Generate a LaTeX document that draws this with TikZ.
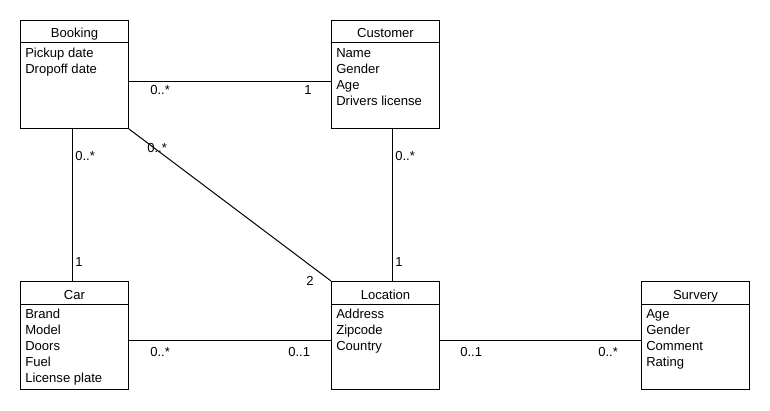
\documentclass[tikz,border=0pt]{standalone}
\usepackage{fontspec}
\setmainfont{Liberation Sans}
\usetikzlibrary{calc}

\begin{document}
\begin{tikzpicture}[x=0.75pt,y=0.75pt,yscale=-1,xscale=1,
	every node/.style={font=\fontsize{9.8}{12}\selectfont},
	umlbox/.style={draw, line width=0.75pt, anchor=north west, minimum width=81pt, minimum height=81pt, inner sep=0pt},
	classname/.style={anchor=base, inner sep=0.75pt},
	attrs/.style={anchor=north west, align=left, inner sep=0.75pt},
	mult/.style={anchor=base west, inner sep=0.75pt},
	assoc/.style={line width=0.75pt}]
				\useasboundingbox (0,0) rectangle (770,410);

				%Shape: Class Boxes
				\node[umlbox] (booking) at (20,20) {};
				\node[umlbox] (customer) at (331,20) {};
				\node[umlbox] (car) at (20,281) {};
				\node[umlbox] (location) at (331,281) {};
				\node[umlbox] (survery) at (641,281) {};

				%Straight Lines: title dividers
				\draw [assoc] ($(booking.north west)+(0,23)$) -- ($(booking.north east)+(0,23)$) ;
				\draw [assoc] ($(customer.north west)+(0,23)$) -- ($(customer.north east)+(0,23)$) ;
				\draw [assoc] ($(car.north west)+(0,23)$) -- ($(car.north east)+(0,23)$) ;
				\draw [assoc] ($(location.north west)+(0,23)$) -- ($(location.north east)+(0,23)$) ;
				\draw [assoc] ($(survery.north west)+(0,23)$) -- ($(survery.north east)+(0,23)$) ;

				% Text Node
				\node[classname] (bookingname) at ($(booking.north)+(0,18)$) {Booking};
				\node[attrs] (bookingattr) at ($(booking.north west)+(4,27)$) {Pickup date\\Dropoff date};
				% Text Node
				\node[classname] (customername) at ($(customer.north)+(0,18)$) {Customer};
				\node[attrs] (customerattr) at ($(customer.north west)+(4,27)$) {Name\\Gender\\Age\\Drivers license};
				% Text Node
				\node[classname] (carname) at ($(car.north)+(0,18)$) {Car};
				\node[attrs] (carattr) at ($(car.north west)+(4,27)$) {Brand\\Model\\Doors\\Fuel\\License plate};
				% Text Node
				\node[classname] (locationname) at ($(location.north)+(0,18)$) {Location};
				\node[attrs] (locationattr) at ($(location.north west)+(4,27)$) {Address\\Zipcode\\Country};
				% Text Node
				\node[classname] (surveryname) at ($(survery.north)+(0,18)$) {Survery};
				\node[attrs] (surveryattr) at ($(survery.north west)+(4,27)$) {Age\\Gender\\Comment\\Rating};

				%Straight Lines: associations
				\draw [assoc] ($(booking.east)+(0,7)$) -- ($(customer.west)+(0,7)$) ;
				\draw [assoc] ($(booking.south)+(-2,0)$) -- ($(car.north)+(-2,0)$) ;
				\draw [assoc] (booking.south east) -- (location.north west) ;
				\draw [assoc] ($(customer.south)+(7,0)$) -- ($(location.north)+(7,0)$) ;
				\draw [assoc] ($(car.east)+(0,5)$) -- ($(location.west)+(0,5)$) ;
				\draw [assoc] ($(location.east)+(0,5)$) -- ($(survery.west)+(0,5)$) ;

				% Text Node: multiplicities
				\node[mult] (bc1) at (149,94) {0..*};
				\node[mult] (bc2) at (303,94) {1};
				\node[mult] (bk1) at (74,160) {0..*};
				\node[mult] (bk2) at (74,266) {1};
				\node[mult] (bl1) at (146,152) {0..*};
				\node[mult] (bl2) at (305,285) {2};
				\node[mult] (cl1) at (394,160) {0..*};
				\node[mult] (cl2) at (394,266) {1};
				\node[mult] (kl1) at (149,356) {0..*};
				\node[mult] (kl2) at (287,356) {0..1};
				\node[mult] (ls1) at (459,356) {0..1};
				\node[mult] (ls2) at (597,356) {0..*};

		\end{tikzpicture}
\end{document}
